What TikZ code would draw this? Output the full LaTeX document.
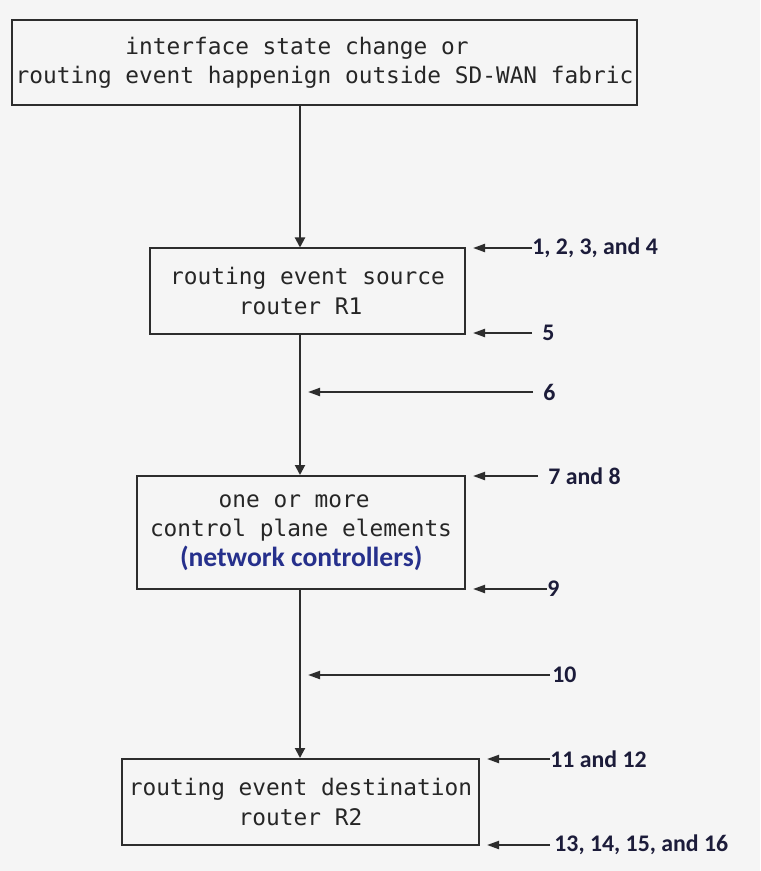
\documentclass[tikz,border=0pt]{standalone}
\usepackage{fontspec}
\setmonofont{DejaVu Sans Mono}
\newfontfamily\stepfont{Carlito}
\usetikzlibrary{arrows.meta, positioning, calc}
\definecolor{bgpaper}{RGB}{245,245,245}
\definecolor{edgegray}{RGB}{45,45,45}
\definecolor{numink}{RGB}{28,28,58}
\definecolor{ctrlblue}{RGB}{38,48,140}
% indent by n monospace characters
\newcommand{\padch}[1]{\hspace*{#1\fontcharwd\font`m}}
\tikzset{
    block/.style={rectangle, draw=edgegray, line width=1pt, align=left, inner sep=0pt, text=black!85, font=\fontsize{11.4}{14.6}\selectfont\ttfamily},
    flow/.style={draw=edgegray, line width=1pt, -{Triangle[length=5pt,width=5pt]}},
    pointer/.style={draw=edgegray, line width=1pt, -{Triangle[length=6pt,width=4pt]}},
    steplbl/.style={anchor=west, inner sep=0pt, text=numink, font=\fontsize{11.9}{14}\selectfont\stepfont\bfseries}
}
\begin{document}
\begin{tikzpicture}[x=0.5pt, y=-0.5pt]
        \fill[bgpaper] (0,0) rectangle (760,871);
        \useasboundingbox (0,0) rectangle (760,871);

        \node[block, minimum width=312.5pt, minimum height=42.5pt] (trigger) at (324.5,63) {\padch{8}interface state change or\\routing event happenign outside SD-WAN fabric};
        \node[block, minimum width=157.5pt, minimum height=42.5pt] (srcrouter) at (307.5,291) {routing event source\\\padch{5}router R1};
        \node[block, minimum width=164pt, minimum height=56.5pt] (controllers) at (301,532.5) {\padch{5}one or more\\control plane elements\\\hspace*{15pt}{\fontsize{13.8}{14.6}\selectfont\stepfont\bfseries\color{ctrlblue}(network controllers)}};
        \node[block, minimum width=178.5pt, minimum height=43pt] (dstrouter) at (300.5,802) {routing event destination\\\padch{8}router R2};

        % main flow
        \coordinate (spine) at (300,0);
        \draw[flow] (trigger.south -| spine) -- (srcrouter.north -| spine);
        \draw[flow] (srcrouter.south -| spine) -- (controllers.north -| spine);
        \draw[flow] (controllers.south -| spine) -- (dstrouter.north -| spine);

        % step numbers
        \coordinate[right=3.5pt of srcrouter.north east] (in1);
        \coordinate[right=3.5pt of srcrouter.south east] (in5);
        \coordinate (in6) at (308,392);
        \coordinate[right=3.5pt of controllers.north east] (in7);
        \coordinate[right=3.5pt of controllers.south east] (in9);
        \coordinate (in10) at (308,675);
        \coordinate[right=3.5pt of dstrouter.north east] (in11);
        \coordinate[right=3.5pt of dstrouter.south east] (in13);

        \node[steplbl] (s1) at (532,248) {1, 2, 3, and 4};
        \node[steplbl, inner xsep=5pt] (s5) at (532,333) {5};
        \node[steplbl, inner xsep=5pt] (s6) at (533,392) {6};
        \node[steplbl, inner xsep=5pt] (s7) at (538,476) {7 and 8};
        \node[steplbl] (s9) at (547,589) {9};
        \node[steplbl, inner xsep=1pt] (s10) at (550,675) {10};
        \node[steplbl] (s11) at (550,759) {11 and 12};
        \node[steplbl, inner xsep=2pt] (s13) at (550,845) {13, 14, 15, and 16};

        \foreach \s/\t in {s1/in1, s5/in5, s6/in6, s7/in7, s9/in9, s10/in10, s11/in11, s13/in13}
            \draw[pointer] (\s.west) -- (\s.west -| \t);
\end{tikzpicture}
\end{document}
